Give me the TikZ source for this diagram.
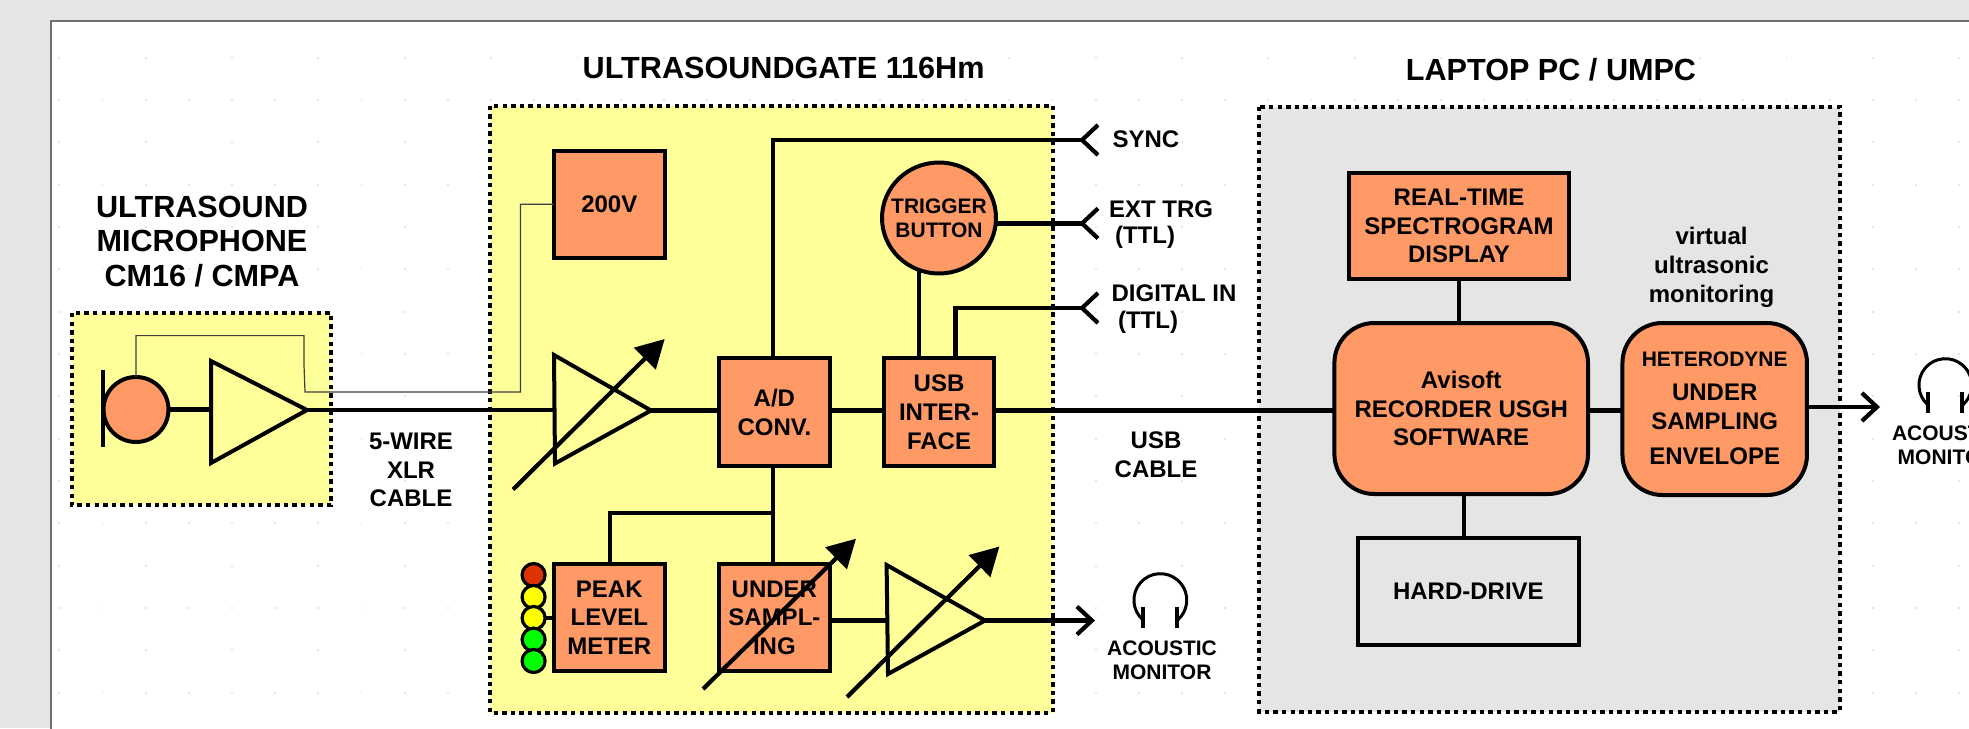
\documentclass[tikz,border=0pt]{standalone}
\usepackage{fontspec}
\setmainfont{Liberation Sans}
\usetikzlibrary{arrows.meta,shapes.geometric}
\definecolor{pagegrey}{HTML}{E5E5E5}
\definecolor{framegrey}{HTML}{707070}
\definecolor{griddot}{HTML}{E6E6E6}
\definecolor{boxorange}{HTML}{FF9966}
\definecolor{paleyellow}{HTML}{FFFF99}
\definecolor{laptopgrey}{HTML}{E5E5E5}
\definecolor{ledred}{HTML}{DD3300}
\definecolor{ledyellow}{HTML}{FFFF00}
\definecolor{ledgreen}{HTML}{00FF00}
\definecolor{thinwire}{HTML}{404040}
\tikzset{
  x=0.5pt,y=-0.5pt,
  every node/.style={inner sep=0pt,outer sep=0pt},
  bigtext/.style={font=\fontsize{15.3}{17.2}\selectfont\bfseries,align=center,text=black},
  midtext/.style={font=\fontsize{12}{14.3}\selectfont\bfseries,align=center,text=black},
  smalltext/.style={font=\fontsize{10.5}{12}\selectfont\bfseries,align=center,text=black},
  orangebox/.style={draw=black,line width=2pt,fill=boxorange,rectangle,midtext},
  softbox/.style={orangebox,rounded corners=20pt},
  drivebox/.style={draw=black,line width=2pt,fill=laptopgrey,rectangle,midtext},
  groupbox/.style={draw=black,line width=2pt,dash pattern=on 2.2pt off 2.1pt},
  wire/.style={draw=black,line width=2.1pt},
  finewire/.style={draw=thinwire,line width=0.6pt},
  ampshape/.style={draw=black,line width=2pt,line join=miter},
  outarrow/.style={wire,-{Straight Barb[length=7.5pt,width=14pt]}},
  gainarrow/.style={draw=black,line width=2.1pt,-{Triangle[length=14pt,width=15pt]}},
  led/.style={circle,draw=black,line width=1.6pt,minimum size=11.5pt},
}
\newcommand{\inputfork}[1]{\draw[wire] (#1) ++(16,-15) -- (#1) -- ++(16,15);}
\newcommand{\phones}[3]{%
  \coordinate (#1) at (#2,#3);
  \draw[draw=black,line width=1.5pt] (#1) ++(-17,45) arc[start angle=229,end angle=-49,radius=13.2pt];
  \draw[draw=black,line width=2.2pt] (#1) ++(-17,32) -- ++(0,21);
  \draw[draw=black,line width=2.2pt] (#1) ++(17,32) -- ++(0,21);
}
\begin{document}
\begin{tikzpicture}
\useasboundingbox (0,0) rectangle (1969,728);
\clip (0,0) rectangle (1969,728);
\fill[pagegrey] (0,0) rectangle (1969,728);
\fill[white] (51,21) rectangle (1975,735);
\draw[framegrey,line width=1pt] (51,735) -- (51,21) -- (1975,21);
% faint drawing-grid dots
\foreach \j in {0,...,15}{
  \foreach \i in {0,...,44}{
    \pgfmathtruncatemacro{\showdot}{(mod(\j,2)==1 || mod(\i,2)==0) ? 1 : 0}
    \ifnum\showdot=1
      \fill[griddot] ({59.3+43.18*\i-0.9},{57.7+42.33*\j-0.9}) rectangle ++(1.8,1.8);
    \fi
  }
}
% group backgrounds
\path[fill=paleyellow] (71.5,313) rectangle (331,505);
\path[fill=paleyellow] (490,105.5) rectangle (1052.5,712.5);
\path[fill=laptopgrey] (1259,106.6) rectangle (1839.5,711.5);
\draw[groupbox] (71.5,313) rectangle (331,505);
\draw[groupbox] (490,105.5) rectangle (1052.5,712.5);
\draw[groupbox] (1259,106.6) rectangle (1839.5,711.5);
% titles
\node[bigtext] (titlemic) at (202,241.3) {ULTRASOUND\\MICROPHONE\\CM16 / CMPA};
\node[bigtext] (titleusg) at (783.6,68) {ULTRASOUNDGATE 116Hm};
\node[bigtext] (titlepc) at (1551,69.5) {LAPTOP PC / UMPC};
% blocks
\node[orangebox,minimum width=55.35pt,minimum height=53.3pt] (hv) at (609.3,204.3) {200V};
\node[orangebox,minimum width=55.35pt,minimum height=53.5pt] (peak) at (609.3,617.5) {PEAK\\LEVEL\\METER};
\node[orangebox,minimum width=55.6pt,minimum height=53.75pt] (ad) at (774.4,412.2) {A/D\\CONV.};
\node[orangebox,minimum width=55pt,minimum height=53.75pt] (usb) at (939,412.2) {USB\\INTER-\\FACE};
\node[orangebox,minimum width=55.6pt,minimum height=53.5pt] (under) at (774.4,617.5) {UNDER\\SAMPL-\\ING};
\node[ellipse,draw=black,line width=2pt,fill=boxorange,minimum width=57pt,minimum height=55.5pt] (trig) at (939,218) {};
\node[smalltext] (trigtext) at (trig.center) {TRIGGER\\BUTTON};
\node[orangebox,minimum width=110pt,minimum height=53pt] (rt) at (1459,226) {REAL-TIME\\SPECTROGRAM\\DISPLAY};
\node[softbox,minimum width=126.8pt,minimum height=85.5pt] (avi) at (1461.2,408.5) {Avisoft\\RECORDER USGH\\SOFTWARE};
\node[softbox,minimum width=92.25pt,minimum height=86pt] (het) at (1714.7,409) {};
\node[smalltext] (hettop) at (1714.7,359.6) {HETERODYNE};
\node[midtext] (hetmid) at (1714.7,407) {UNDER\\SAMPLING};
\node[midtext] (hetlow) at (1714.7,456.4) {ENVELOPE};
\node[drivebox,minimum width=110.6pt,minimum height=53.25pt] (hd) at (1468.4,591.7) {HARD-DRIVE};
\node[midtext] (virt) at (1711.5,267.3) {virtual\\ultrasonic\\monitoring};
% microphone
\node[circle,draw=black,line width=2pt,fill=boxorange,minimum size=32.5pt] (mic) at (136,409.5) {};
\coordinate (plateA) at (103,370);
\coordinate (plateB) at (103,447);
\draw[wire] (plateA) -- (plateB);
% amplifier corners
\coordinate (aA) at (211,361); \coordinate (aB) at (211,463); \coordinate (aT) at (307,410);
\coordinate (bA) at (554,355); \coordinate (bB) at (555,463.5); \coordinate (bT) at (651,410.5);
\coordinate (cA) at (886.6,565); \coordinate (cB) at (888,674); \coordinate (cT) at (985,620.5);
% thin supply wire
\coordinate (wa) at (136,335.6); \coordinate (wb) at (304,335.6); \coordinate (wc) at (304,365);
\coordinate (wd) at (305,392); \coordinate (we) at (520.5,392); \coordinate (wf) at (520.5,204.3);
\draw[finewire] (mic.north) -- (wa) -- (wb) -- (wc) -- (wd) -- (we) -- (wf) -- (hv.west);
% wires
\draw[wire] (mic.east) -- (211,409.5);
\draw[wire] (aT) -- (bA |- aT);
\draw[wire] (bT) -- (ad.west |- bT);
\draw[wire] (ad.east |- 0,410.5) -- (usb.west |- 0,410.5);
\coordinate (pcin) at (1334.4,410.5);
\draw[wire] (usb.east |- pcin) -- (avi.west |- pcin);
\draw[wire] (avi.east |- pcin) -- (het.west |- pcin);
\draw[wire] (773,358.5) -- (773,140) -- (1082,140) coordinate (syncf);
\draw[wire] (trig.east |- 0,223.4) -- (1082,223.4) coordinate (extf);
\draw[wire] (919,358.5) -- (919,270);
\draw[wire] (955.5,358.5) -- (955.5,308) -- (1082,308) coordinate (digf);
\inputfork{syncf}
\inputfork{extf}
\inputfork{digf}
\draw[wire] (773,466) -- (773,564);
\coordinate (branch) at (773,513);
\draw[wire] (branch) -- (610,513) -- (610,564);
\draw[wire] (under.east |- cT) -- (cA |- cT);
\coordinate (mon1in) at (1095,620.5);
\draw[outarrow] (cT) -- (mon1in);
\draw[wire] (rt.south) -- (rt.south |- avi.north);
\draw[wire] (hd.north -| 1463.8,0) -- (1463.8,494);
\coordinate (mon2in) at (1880,407);
\draw[outarrow] (het.east |- mon2in) -- (mon2in);
% amplifiers
\draw[ampshape] (aA) -- (aB) -- (aT) -- cycle;
\draw[ampshape] (bA) -- (bB) -- (bT) -- cycle;
\draw[ampshape] (cA) -- (cB) -- (cT) -- cycle;
% level LEDs
\draw[wire] (533.6,618) -- (peak.west |- 0,618);
\node[led,fill=ledred] (led1) at (533.6,575) {};
\node[led,fill=ledyellow] (led2) at (533.6,597) {};
\node[led,fill=ledyellow] (led3) at (533.6,618) {};
\node[led,fill=ledgreen] (led4) at (533.6,639.6) {};
\node[led,fill=ledgreen] (led5) at (533.6,661) {};
% gain arrows
\coordinate (g1a) at (513,489.5); \coordinate (g1b) at (664.7,339);
\coordinate (g2a) at (703,689); \coordinate (g2b) at (856,538.7);
\coordinate (g3a) at (847,697); \coordinate (g3b) at (999.4,546.5);
\draw[gainarrow] (g1a) -- (g1b);
\draw[gainarrow] (g2a) -- (g2b);
\draw[gainarrow] (g3a) -- (g3b);
% labels
\node[midtext] (lblxlr) at (411,470) {5-WIRE\\XLR\\CABLE};
\node[midtext] (lblusb) at (1156,455) {USB\\CABLE};
\node[midtext,anchor=west] (lblsync) at (1112.6,139) {SYNC};
\node[midtext,anchor=west] (lblext) at (1109,209) {EXT TRG};
\node[midtext,anchor=west] (lblextb) at (1115,237.7) {(TTL)};
\node[midtext,anchor=west] (lbldig) at (1111.6,293.4) {DIGITAL IN};
\node[midtext,anchor=west] (lbldigb) at (1118,322.7) {(TTL)};
\phones{phoneA}{1160}{575}
\phones{phoneB}{1945}{360}
\node[smalltext] (lblmonA) at (1162,660) {ACOUSTIC\\MONITOR};
\node[smalltext,anchor=west] (lblmonBa) at (1892,433) {ACOUSTIC};
\node[smalltext,anchor=west] (lblmonBb) at (1897.7,457) {MONITOR};
\end{tikzpicture}
\end{document}
